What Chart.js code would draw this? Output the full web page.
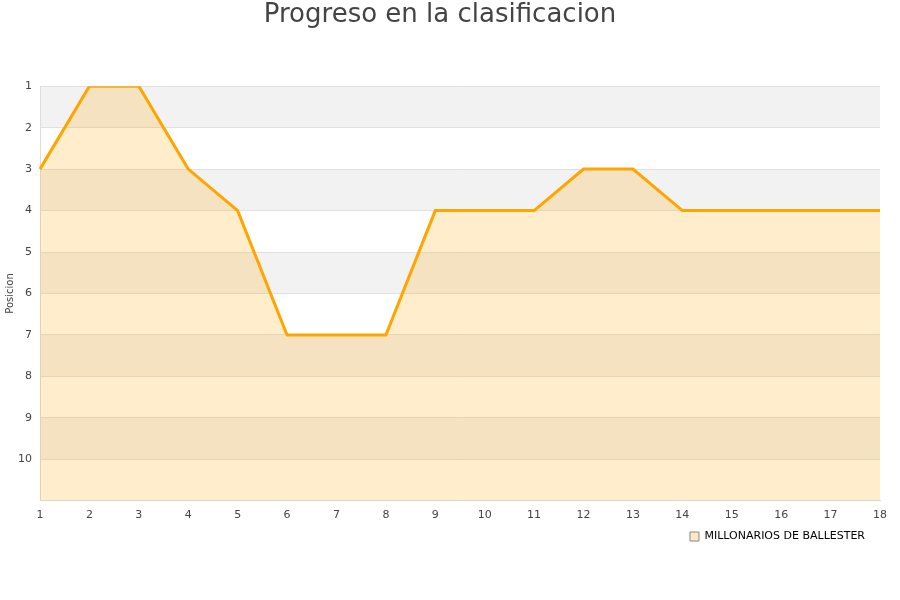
<!DOCTYPE html>
<html>
<head>
<meta charset="utf-8">
<script src="https://cdn.jsdelivr.net/npm/chart.js@4/dist/chart.umd.min.js"></script>
<style>
  html, body { margin: 0; padding: 0; background: #fff; }
  #wrap { width: 900px; height: 600px; }
</style>
</head>
<body>
<div id="wrap"><canvas id="myChart" width="900" height="600"></canvas></div>
<script>
// jornadas and positions
var jornadas = ['1','2','3','4','5','6','7','8','9','10','11','12','13','14','15','16','17','18'];
var posiciones = [3, 1, 1, 3, 4, 7, 7, 7, 4, 4, 4, 3, 3, 4, 4, 4, 4, 4];
var equipo = 'MILLONARIOS DE BALLESTER';

// alternating gray bands behind the plot
var bandPlugin = {
    id: 'bands',
    beforeDraw: function (chart) {
        var ctx = chart.ctx;
        var area = chart.chartArea;
        var y = chart.scales.y;
        ctx.save();
        ctx.fillStyle = '#f2f2f2';
        for (var v = 1; v < 11; v += 2) {
            var top = y.getPixelForValue(v);
            var bottom = y.getPixelForValue(v + 1);
            ctx.fillRect(area.left, top, area.right - area.left, bottom - top);
        }
        ctx.restore();
    }
};

// nudge the legend a little to the left
var legendShift = {
    id: 'legendShift',
    afterLayout: function (chart) {
        chart.legend.right -= 14;
    }
};

new Chart(document.getElementById('myChart'), {
    type: 'line',
    data: {
        labels: jornadas,
        datasets: [{
            label: equipo,
            data: posiciones,
            borderColor: '#ffa500',
            backgroundColor: 'rgba(255, 165, 0, 0.2)',
            borderWidth: 3,
            pointRadius: 0,
            tension: 0,
            fill: 'start'
        }]
    },
    options: {
        responsive: false,
        animation: false,
        layout: {
            padding: { left: 0, right: 20, top: 0, bottom: 48 }
        },
        scales: {
            x: {
                offset: false,
                grid: { display: false, drawTicks: false },
                border: { display: true, color: '#dddddd' },
                ticks: {
                    color: '#444',
                    padding: 8,
                    maxRotation: 0,
                    font: { family: 'DejaVu Sans', size: 11 }
                }
            },
            y: {
                reverse: true,
                min: 1,
                max: 11,
                afterFit: function (scale) { scale.width = 40; },
                title: {
                    display: true,
                    text: 'Posicion',
                    color: '#444',
                    padding: { top: 4, bottom: 0 },
                    font: { family: 'DejaVu Sans', size: 10 }
                },
                grid: {
                    color: '#e0e0e0',
                    drawTicks: false
                },
                border: { display: true, color: '#dddddd' },
                ticks: {
                    stepSize: 1,
                    color: '#444',
                    padding: 8,
                    font: { family: 'DejaVu Sans', size: 11 },
                    callback: function (value) {
                        return value === 11 ? '' : value;
                    }
                }
            }
        },
        plugins: {
            title: {
                display: true,
                text: 'Progreso en la clasificacion',
                color: '#444',
                font: { family: 'DejaVu Sans', size: 26, weight: 'normal' },
                padding: { top: 0, bottom: 55 }
            },
            legend: {
                position: 'bottom',
                align: 'end',
                labels: {
                    color: '#000',
                    boxWidth: 9,
                    boxHeight: 9,
                    padding: 1,
                    font: { family: 'DejaVu Sans', size: 11 },
                    generateLabels: function (chart) {
                        return chart.data.datasets.map(function (ds, i) {
                            return {
                                text: ds.label,
                                fillStyle: '#fde9c4',
                                strokeStyle: '#888888',
                                lineWidth: 1,
                                fontColor: '#000',
                                datasetIndex: i
                            };
                        });
                    }
                }
            },
            tooltip: { enabled: false }
        }
    },
    plugins: [bandPlugin, legendShift]
});
</script>
</body>
</html>
